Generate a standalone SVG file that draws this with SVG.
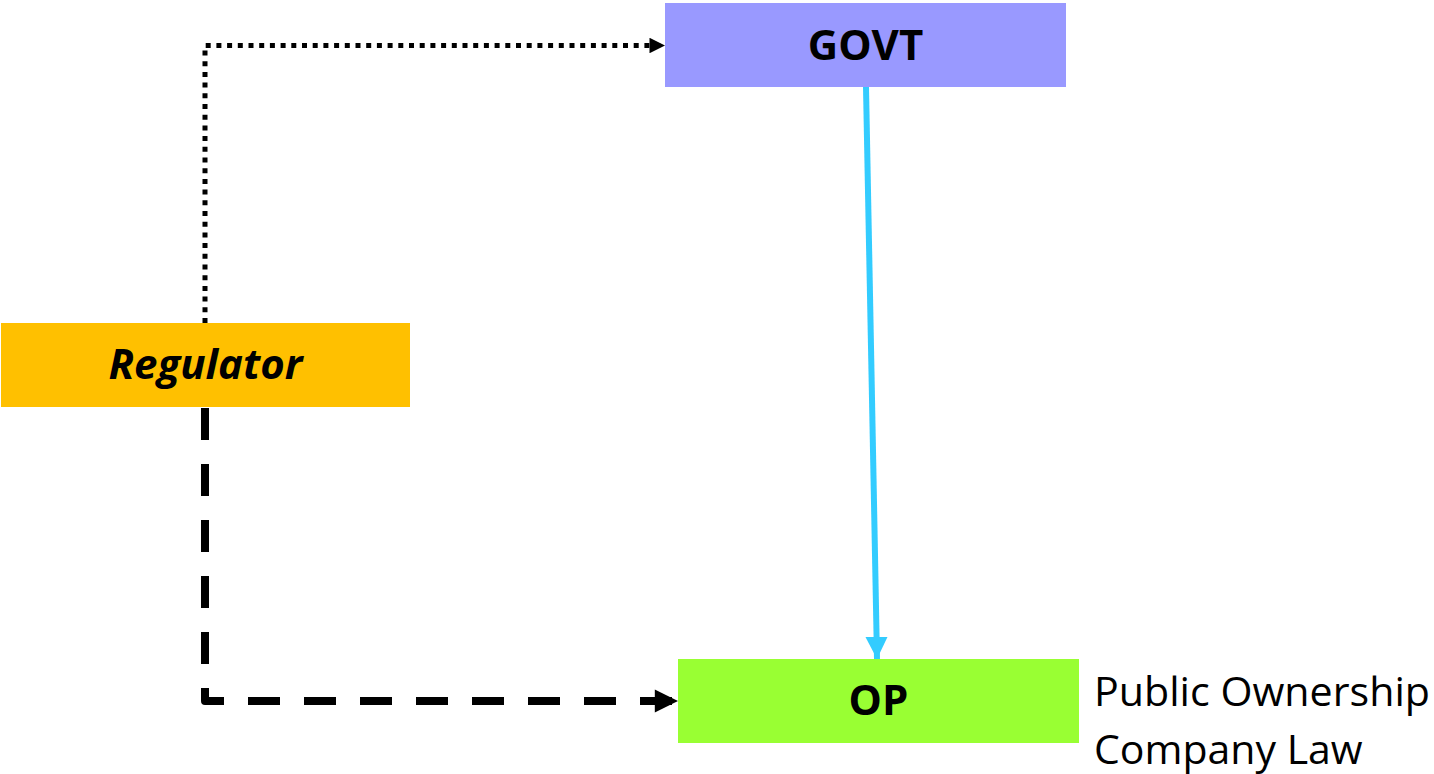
<svg xmlns="http://www.w3.org/2000/svg" width="1434" height="774" viewBox="0 0 1434 774">
  <style>
    .lbl { font-family: "Open Sans", "Noto Sans", "Liberation Sans", sans-serif; font-size: 42px; font-weight: bold; fill: #000; }
    .note { font-family: "Open Sans", "Noto Sans", "Liberation Sans", sans-serif; font-size: 41px; fill: #000; }
  </style>
  <defs>
    <marker id="arrDot" viewBox="0 0 10 10" refX="10" refY="5" markerWidth="3.2" markerHeight="3.1" orient="auto" markerUnits="strokeWidth">
      <path d="M0,0 L10,5 L0,10 Z" fill="#000"/>
    </marker>
    <marker id="arrDash" viewBox="0 0 10 10" refX="10" refY="5" markerWidth="3.1" markerHeight="2.9" orient="auto" markerUnits="strokeWidth">
      <path d="M0,0 L10,5 L0,10 Z" fill="#000"/>
    </marker>
    <marker id="arrBlue" viewBox="0 0 10 10" refX="10" refY="5" markerWidth="3.7" markerHeight="4" orient="auto" markerUnits="strokeWidth">
      <path d="M0,0 L10,5 L0,10 Z" fill="#33CCFF"/>
    </marker>
  </defs>

  <rect width="1434" height="774" fill="#fff"/>

  <g id="connectors">
    <!-- Regulator to GOVT, dotted -->
    <path d="M205,323 V45.5 H665" fill="none" stroke="#000" stroke-width="5" stroke-dasharray="5,5.7" marker-end="url(#arrDot)"/>
    <!-- Regulator to OP, dashed -->
    <path d="M205,408 V701 H678" fill="none" stroke="#000" stroke-width="8" stroke-linejoin="round" stroke-dasharray="32,24" marker-end="url(#arrDash)"/>
    <!-- GOVT to OP, solid blue -->
    <line x1="866" y1="87" x2="877" y2="659" stroke="#33CCFF" stroke-width="6" marker-end="url(#arrBlue)"/>
  </g>

  <g id="govt">
    <rect x="665" y="3" width="401" height="84" fill="#9999FF"/>
    <text class="lbl" x="865.5" y="60" text-anchor="middle">GOVT</text>
  </g>

  <g id="regulator">
    <rect x="1" y="323" width="409" height="84" fill="#FFC000"/>
    <text class="lbl" x="205.5" y="379" text-anchor="middle" font-style="italic">Regulator</text>
  </g>

  <g id="op">
    <rect x="678" y="659" width="401" height="84" fill="#99FF33"/>
    <text class="lbl" x="878.5" y="715" text-anchor="middle">OP</text>
    <text class="note" x="1094" y="706" textLength="336" lengthAdjust="spacingAndGlyphs">Public Ownership</text>
    <text class="note" x="1094" y="764">Company Law</text>
  </g>
</svg>
